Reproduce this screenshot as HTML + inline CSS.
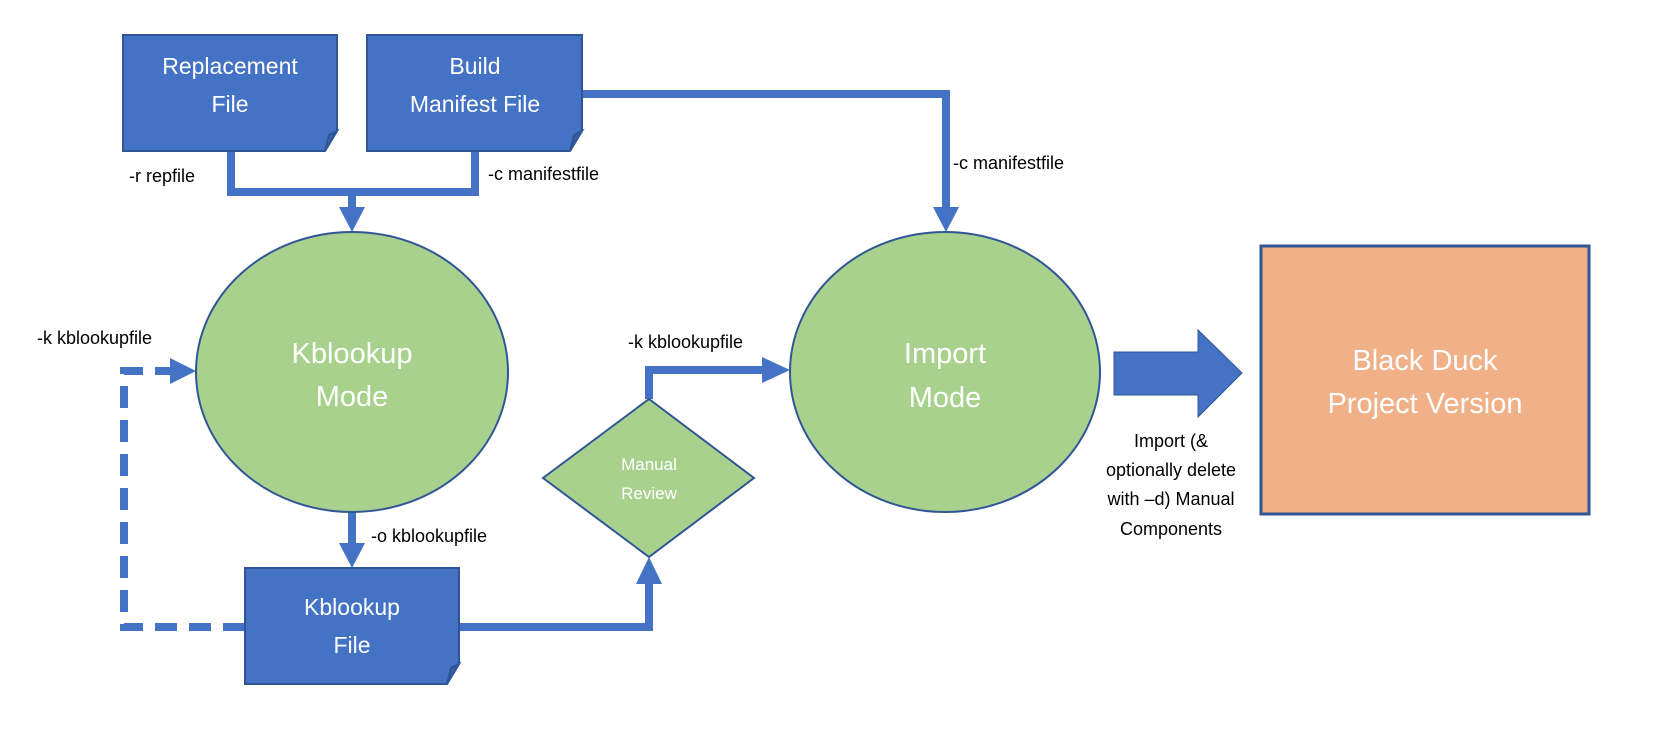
<!DOCTYPE html>
<html><head><meta charset="utf-8"><style>
html,body{margin:0;padding:0;background:#fff;}
svg{display:block;}
text{font-family:"Liberation Sans",sans-serif;}
.w{fill:#fff;text-anchor:middle;}
.b{fill:#000;font-size:18px;}
</style></head><body>
<svg width="1677" height="742" viewBox="0 0 1677 742" xmlns="http://www.w3.org/2000/svg">
<g fill="none" stroke="#4472c4" stroke-width="8">
  <polyline points="231,151 231,192 475,192 475,151"/>
  <line x1="352" y1="192" x2="352" y2="210"/>
  <polyline points="582,94 946,94 946,210"/>
  <line x1="352" y1="511" x2="352" y2="545"/>
  <polyline points="459,627 649,627 649,584"/>
  <polyline points="649,399 649,370 766,370"/>
  <polyline points="245,627 124,627 124,371 172,371" stroke-dasharray="22,12"/>
</g>
<g fill="#4472c4">
  <polygon points="339,207 365,207 352,232"/>
  <polygon points="933,207 959,207 946,232"/>
  <polygon points="339,543 365,543 352,568"/>
  <polygon points="636,584 662,584 649,557"/>
  <polygon points="762,357 762,383 790,370"/>
  <polygon points="170,358 170,384 196,371"/>
  <polygon points="1114,352 1198,352 1198,330 1242,373 1198,417 1198,395 1114,395" stroke="#2f5597" stroke-width="1"/>
</g>
<g stroke="#2f5597" stroke-width="2">
  <path d="M123,35 H337 V131 L325,151 H123 Z" fill="#4472c4"/>
  <path d="M337,131 L325,151 L329,135 Z" fill="#3a5fa5"/>
  <path d="M367,35 H582 V131 L570,151 H367 Z" fill="#4472c4"/>
  <path d="M582,131 L570,151 L574,135 Z" fill="#3a5fa5"/>
  <path d="M245,568 H459 V664 L447,684 H245 Z" fill="#4472c4"/>
  <path d="M459,664 L447,684 L451,668 Z" fill="#3a5fa5"/>
  <ellipse cx="352" cy="372" rx="156" ry="140" fill="#a9d18e"/>
  <ellipse cx="945" cy="372" rx="155" ry="140" fill="#a9d18e"/>
  <polygon points="649,399 754,478 649,557 543,478" fill="#a9d18e"/>
  <rect x="1261" y="246" width="328" height="268" fill="#f0b189" stroke-width="3"/>
</g>
<g class="w" font-size="23">
  <text x="230" y="74">Replacement</text>
  <text x="230" y="112">File</text>
  <text x="475" y="74">Build</text>
  <text x="475" y="112">Manifest File</text>
  <text x="352" y="615">Kblookup</text>
  <text x="352" y="653">File</text>
</g>
<g class="w" font-size="29">
  <text x="352" y="363">Kblookup</text>
  <text x="352" y="406">Mode</text>
  <text x="945" y="363">Import</text>
  <text x="945" y="407">Mode</text>
  <text x="1425" y="370">Black Duck</text>
  <text x="1425" y="413">Project Version</text>
</g>
<g class="w" font-size="17">
  <text x="649" y="470">Manual</text>
  <text x="649" y="499">Review</text>
</g>
<g class="b">
  <text x="129" y="182">-r repfile</text>
  <text x="488" y="180">-c manifestfile</text>
  <text x="953" y="169">-c manifestfile</text>
  <text x="37" y="344">-k kblookupfile</text>
  <text x="628" y="348">-k kblookupfile</text>
  <text x="371" y="542">-o kblookupfile</text>
  <g text-anchor="middle">
    <text x="1171" y="447">Import (&amp;</text>
    <text x="1171" y="476">optionally delete</text>
    <text x="1171" y="505">with –d) Manual</text>
    <text x="1171" y="535">Components</text>
  </g>
</g>
</svg>
</body></html>
